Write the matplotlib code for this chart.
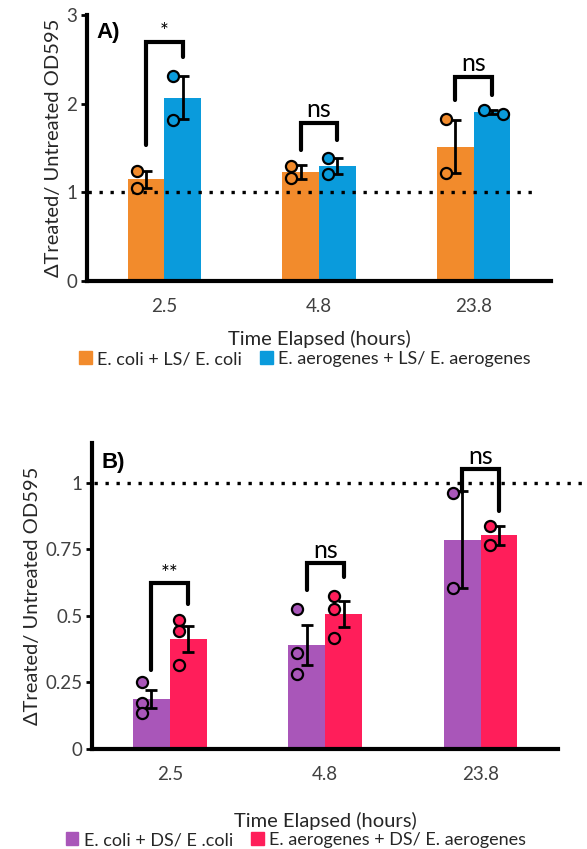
import matplotlib
matplotlib.use('Agg')
import matplotlib.pyplot as plt
from matplotlib.patches import Patch
import numpy as np

plt.rcParams['font.family'] = ['Lato', 'DejaVu Sans']

# values
times = ['2.5', '4.8', '23.8']

ls_ecoli_mean = [1.15, 1.23, 1.515]
ls_ecoli_err = [0.095, 0.075, 0.30]
ls_ecoli_pts = [[1.24, 1.05], [1.30, 1.165], [1.83, 1.225]]
ls_aero_mean = [2.07, 1.30, 1.905]
ls_aero_err = [0.245, 0.09, 0.025]
ls_aero_pts = [[2.31, 1.82], [1.39, 1.21], [1.93, 1.88]]

ds_ecoli_mean = [0.188, 0.391, 0.787]
ds_ecoli_err = [0.035, 0.074, 0.183]
ds_ecoli_pts = [[0.25, 0.174, 0.137], [0.527, 0.36, 0.281], [0.962, 0.605]]
ds_aero_mean = [0.413, 0.507, 0.803]
ds_aero_err = [0.05, 0.049, 0.035]
ds_aero_pts = [[0.486, 0.442, 0.316], [0.576, 0.526, 0.417], [0.839, 0.765]]

# significance brackets: left leg bottom, top, right leg bottom, label
ls_sig = [(1.53, 2.70, 2.53, '*'), (1.48, 1.786, 1.59, 'ns'), (2.04, 2.30, 2.10, 'ns')]
ds_sig = [(0.297, 0.624, 0.545, '**'), (0.598, 0.70, 0.647, 'ns'), (0.966, 1.053, 0.895, 'ns')]

ORANGE = '#F28B2C'
BLUE = '#0A9BDC'
PURPLE = '#A956B9'
RED = '#FF1E5A'
GREY = '#404040'

W = 0.237


def draw_panel(ax, means, errs, pts, colors, sig, ylim, yticks, ytl, tag, line_end,
               sig_dy, xpad):
    x = np.arange(len(times))
    for k, side in enumerate([-1, 1]):
        xs = x + side * W / 2
        ax.bar(xs, means[k], width=W, color=colors[k], zorder=2)
        ax.errorbar(xs, means[k], yerr=errs[k], fmt='none', ecolor='black',
                    elinewidth=2, capsize=4, capthick=2, zorder=4)
        for i in range(len(times)):
            n = len(pts[k][i])
            dx = [-0.06] * n
            if k == 1 and i == 2 and tag == 'A)':
                dx = [-0.05, 0.07]
            ax.plot(xs[i] + np.array(dx), pts[k][i], 'o', ms=8, mfc=colors[k],
                    mec='black', mew=1.6, zorder=5, clip_on=False)
    for i, (yl, yt, yr, lab) in enumerate(sig):
        xl = i - W / 2
        xr = i + W / 2
        ax.plot([xl, xl, xr, xr], [yl, yt, yt, yr], color='black', lw=3,
                solid_capstyle='round', solid_joinstyle='miter', zorder=6, clip_on=False)
        fs = 18 if lab == 'ns' else 15
        ax.text(i, yt + sig_dy[lab], lab, ha='center', va='baseline', fontsize=fs,
                color='black', zorder=7)
    ax.plot([-0.49, line_end], [1, 1], color='black', lw=2.4,
            linestyle=(0, (1, 2.3)), dash_capstyle='butt', zorder=3, clip_on=False)
    ax.set_xlim(-0.5, 2.5)
    ax.set_ylim(*ylim)
    ax.set_yticks(yticks)
    ax.set_yticklabels(ytl)
    ax.set_xticks(x)
    ax.set_xticklabels(times)
    ax.tick_params(axis='x', length=0, pad=12, labelsize=13.5, labelcolor=GREY)
    ax.tick_params(axis='y', length=4, width=2, pad=3, labelsize=13.5, labelcolor=GREY)
    for s in ['top', 'right']:
        ax.spines[s].set_visible(False)
    ax.spines['left'].set_linewidth(3)
    ax.spines['bottom'].set_linewidth(3)
    ax.set_ylabel('\u0394Treated/ Untreated OD595', fontsize=14.5, color='#262626', labelpad=3)
    ax.set_xlabel('Time Elapsed (hours)', fontsize=14.5, color='#262626', labelpad=xpad)
    ax.text(0.02, 0.935, tag, transform=ax.transAxes, fontsize=16, fontweight='bold',
            family='Liberation Sans', va='center', ha='left')


fig = plt.figure(figsize=(5.87, 8.49), dpi=100)
ax1 = fig.add_axes([0.148, 0.669, 0.791, 0.313])
ax2 = fig.add_axes([0.157, 0.1178, 0.794, 0.3604])

draw_panel(ax1, [ls_ecoli_mean, ls_aero_mean], [ls_ecoli_err, ls_aero_err],
           [ls_ecoli_pts, ls_aero_pts], [ORANGE, BLUE], ls_sig,
           (0, 3), [0, 1, 2, 3], ['0', '1', '2', '3'], 'A)', 2.41,
           {'*': 0.04, 'ns': 0.07}, 11)
draw_panel(ax2, [ds_ecoli_mean, ds_aero_mean], [ds_ecoli_err, ds_aero_err],
           [ds_ecoli_pts, ds_aero_pts], [PURPLE, RED], ds_sig,
           (0, 1.15), [0, 0.25, 0.5, 0.75, 1], ['0', '0.25', '0.5', '0.75', '1'], 'B)', 2.66,
           {'**': 0.012, 'ns': 0.018}, 21)

leg_kw = dict(ncol=2, frameon=False, fontsize=13, handlelength=0.7, handleheight=0.7,
              handletextpad=0.3, columnspacing=1.0, borderaxespad=0, labelcolor='#262626')
fig.legend(handles=[Patch(color=ORANGE), Patch(color=BLUE)],
           labels=['E. coli + LS/ E. coli', 'E. aerogenes + LS/ E. aerogenes'],
           loc='center', bbox_to_anchor=(0.52, 0.577), **leg_kw)
fig.legend(handles=[Patch(color=PURPLE), Patch(color=RED)],
           labels=['E. coli + DS/ E .coli', 'E. aerogenes + DS/ E. aerogenes'],
           loc='center', bbox_to_anchor=(0.504, 0.0105), **leg_kw)

fig.savefig('out.png', dpi=100)
